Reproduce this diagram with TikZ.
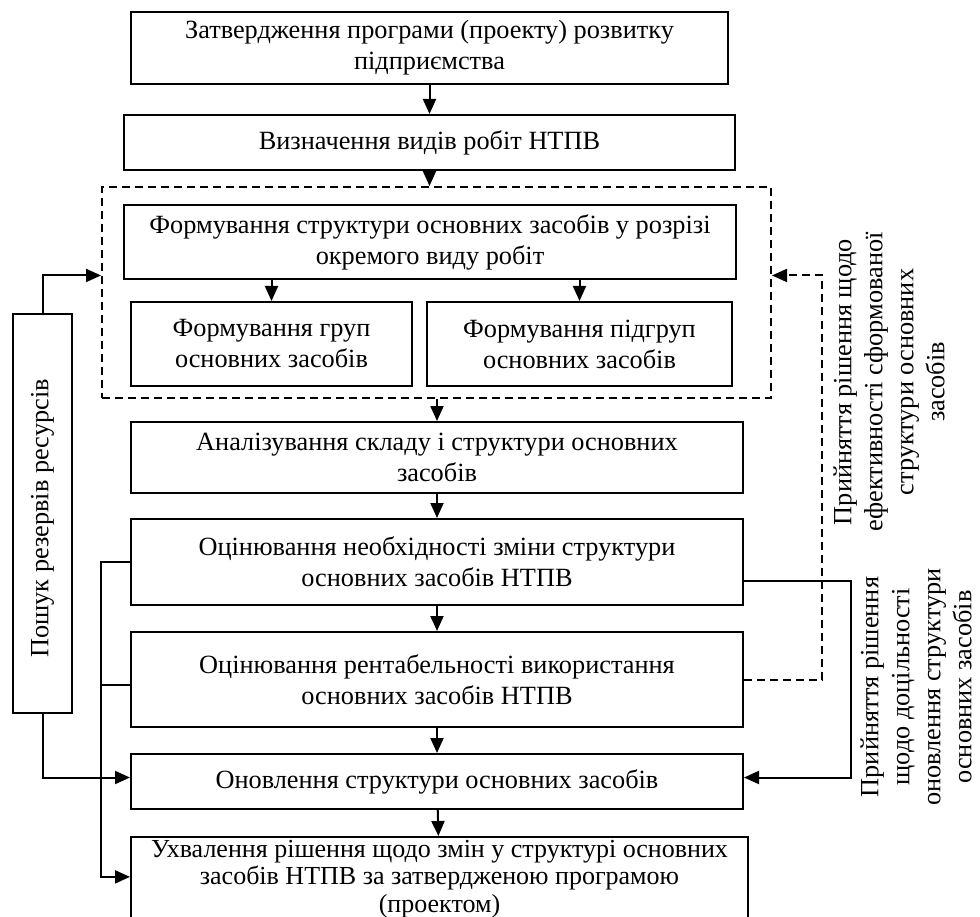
\documentclass[tikz,border=0pt]{standalone}
\usepackage{fontspec}
\setmainfont{Liberation Serif}
\usepackage{tikz}
\usetikzlibrary{arrows.meta,positioning,calc}

\begin{document}
\begin{tikzpicture}[
        x=1pt, y=-1pt,
        font=\fontsize{26.3}{31}\selectfont,
        box/.style={draw, rectangle, line width=2pt, align=center, inner sep=2pt},
        frame/.style={draw, rectangle, line width=2pt, dash pattern=on 8pt off 5pt},
        arr/.style={-{Triangle[length=15pt,width=13pt]}, line width=2pt},
        link/.style={line width=2pt},
        note/.style={rotate=90, align=center, inner sep=0pt}
    ]
        \useasboundingbox (0,0) rectangle (980,917);

        \node[box, minimum width=597pt, minimum height=72pt, anchor=north west] (approve) at (130,11) {Затвердження програми (проекту) розвитку\\підприємства};
        \node[box, minimum width=611pt, minimum height=55pt, below=29pt of approve] (types) {Визначення видів робіт НТПВ};

        \node[frame, minimum width=669pt, minimum height=211pt, anchor=north west] (frame) at (101,186) {};
        \node[box, minimum width=612pt, minimum height=74pt, anchor=north west] (form) at (123,204) {Формування структури основних засобів у розрізі\\окремого виду робіт};
        \node[box, minimum width=281pt, minimum height=84pt, anchor=north west] (groups) at (130,301) {Формування груп\\основних засобів};
        \node[box, minimum width=305pt, minimum height=84pt, right=13pt of groups] (subgroups) {Формування підгруп\\основних засобів};

        \node[box, minimum width=612pt, minimum height=71pt, anchor=north west] (analysis) at (130,421) {Аналізування складу і структури основних\\засобів};
        \node[box, minimum width=612pt, minimum height=86pt, below=24pt of analysis] (need) {Оцінювання необхідності зміни структури\\основних засобів НТПВ};
        \node[box, minimum width=612pt, minimum height=95pt, below=25pt of need] (profit) {Оцінювання рентабельності використання\\основних засобів НТПВ};
        \node[box, minimum width=612pt, minimum height=55pt, below=25pt of profit] (renew) {Оновлення структури основних засобів};
        \node[box, minimum width=617pt, inner ysep=3pt, font=\fontsize{26}{27.5}\selectfont, below=26pt of renew.south west, anchor=north west] (decide) {Ухвалення рішення щодо змін у структурі основних\\засобів НТПВ за затвердженою програмою\\(проектом)};

        \node[box, rotate=90, minimum width=399pt, minimum height=59pt] (reserve) at (42.5,513.5) {Пошук резервів ресурсів\hspace*{10pt}};

        \node[note] (note1) at (889,382) {Прийняття рішення щодо\\ефективності сформованої\\структури основних\\засобів};
        \node[note] (note2) at (916,687) {Прийняття рішення\\щодо доцільності\\оновлення структури\\основних засобів};

        \coordinate (frameL) at ($(frame.north west)!0.42!(frame.south west)$);
        \coordinate (frameR) at ($(frame.north east)!0.42!(frame.south east)$);

        % main column
        \draw[arr] (approve) -- (types);
        \draw[arr] (types.south) -- (types.south |- frame.north);
        \draw[arr] (form.south -| groups) -- (groups);
        \draw[arr] (form.south -| subgroups) -- (subgroups);
        \draw[arr] (frame.south -| analysis) -- (analysis);
        \draw[arr] (analysis) -- (need);
        \draw[arr] (need) -- (profit);
        \draw[arr] (profit) -- (renew);
        \draw[arr] (renew) -- (decide);

        % left side
        \draw[arr] (reserve.east) |- (frameL);
        \draw[arr] (reserve.west) |- ([yshift=4pt]renew.west);
        \draw[arr] (need.west) -- ++(-29,0) |- ([yshift=2pt]decide.west);
        \draw[link] ([yshift=-5pt]profit.west) -- ++(-29,0);

        % right side
        \draw[arr] ([yshift=-19pt]need.east) -- ++(107,0) |- ([yshift=4pt]renew.east);
        \draw[arr, dash pattern=on 8pt off 5pt] (profit.east) -- ++(78,0) |- (frameR);
    \end{tikzpicture}
\end{document}
